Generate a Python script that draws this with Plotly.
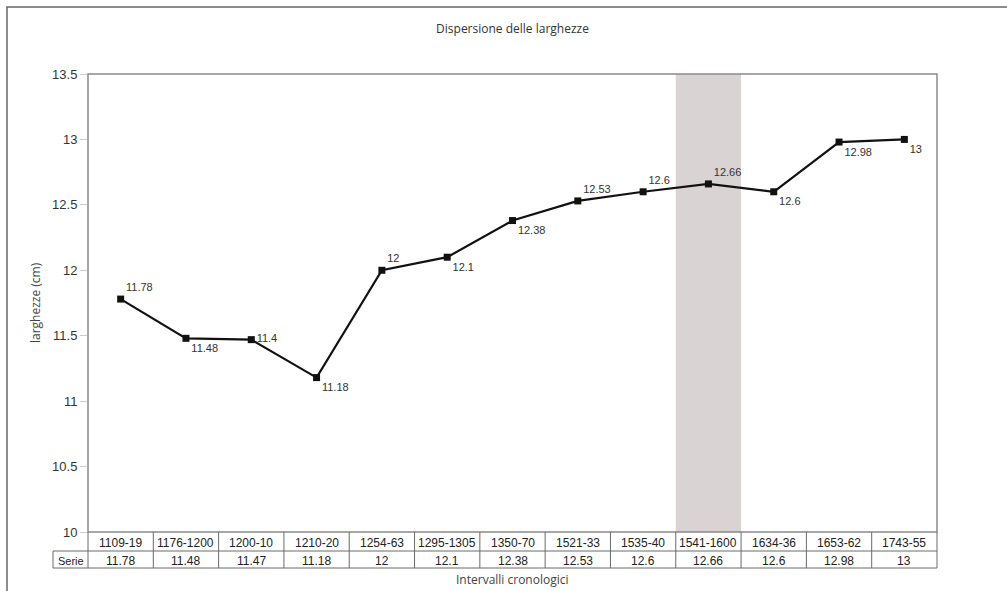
import plotly.graph_objects as go

categories = ["1109-19", "1176-1200", "1200-10", "1210-20", "1254-63", "1295-1305",
              "1350-70", "1521-33", "1535-40", "1541-1600", "1634-36", "1653-62", "1743-55"]
values = [11.78, 11.48, 11.47, 11.18, 12, 12.1, 12.38, 12.53, 12.6, 12.66, 12.6, 12.98, 13]
point_labels = ["11.78", "11.48", "11.4", "11.18", "12", "12.1", "12.38", "12.53", "12.6",
                "12.66", "12.6", "12.98", "13"]
label_pos = ["top right", "bottom right", "middle right", "bottom right", "top right", "bottom right",
             "bottom right", "top right", "top right", "top right", "bottom right",
             "bottom right", "bottom right"]
table_values = ["11.78", "11.48", "11.47", "11.18", "12", "12.1", "12.38", "12.53", "12.6",
                "12.66", "12.6", "12.98", "13"]
series_name = "Serie"
highlight = "1541-1600"
y_ticks = [10, 10.5, 11, 11.5, 12, 12.5, 13, 13.5]

W, H = 1007, 591
L, R, T, B = 88, 937, 74, 532
pw, ph = R - L, B - T

def px_x(p):
    return (p - L) / pw

def px_y(p):
    return (B - p) / ph

n = len(categories)
xs = list(range(n))

fig = go.Figure()
fig.add_trace(go.Scatter(
    x=xs, y=values, mode="lines+markers+text",
    line=dict(color="#111111", width=2.2),
    marker=dict(symbol="square", size=7, color="#111111"),
    text=point_labels, textposition=label_pos,
    textfont=dict(family="Liberation Sans, Arial", size=11, color="#333333"),
    cliponaxis=False, hoverinfo="skip", showlegend=False,
))

shapes = []
hi = categories.index(highlight)
shapes.append(dict(type="rect", xref="x", yref="paper", x0=hi - 0.5, x1=hi + 0.5, y0=0, y1=1,
                   fillcolor="#d9d3d3", line=dict(width=0), layer="below"))
# plot border
shapes.append(dict(type="rect", xref="paper", yref="paper", x0=0, x1=1, y0=0, y1=1,
                   line=dict(color="#8a8a8a", width=1.5)))
# outer frame
shapes.append(dict(type="rect", xref="paper", yref="paper", x0=px_x(7), x1=px_x(1012),
                   y0=px_y(600), y1=px_y(7), line=dict(color="#666666", width=1.5)))
# table lines
row1_bot = 551
row2_bot = 568
tcol = "#6a6a6a"
for i in range(n + 1):
    shapes.append(dict(type="line", xref="paper", yref="paper", x0=i / n, x1=i / n,
                       y0=px_y(row2_bot), y1=0, line=dict(color=tcol, width=1)))
shapes.append(dict(type="line", xref="paper", yref="paper", x0=px_x(53), x1=1,
                   y0=px_y(row1_bot), y1=px_y(row1_bot), line=dict(color=tcol, width=1)))
shapes.append(dict(type="line", xref="paper", yref="paper", x0=px_x(53), x1=1,
                   y0=px_y(row2_bot), y1=px_y(row2_bot), line=dict(color=tcol, width=1)))
shapes.append(dict(type="line", xref="paper", yref="paper", x0=px_x(53), x1=px_x(53),
                   y0=px_y(row2_bot), y1=px_y(row1_bot), line=dict(color=tcol, width=1)))

annotations = []
tfont = dict(family="Liberation Sans, Arial", size=12, color="#222222")
for i, c in enumerate(categories):
    annotations.append(dict(x=(i + 0.5) / n, y=px_y((B + row1_bot) / 2 + 1), xref="paper", yref="paper",
                            text=c, showarrow=False, font=tfont, yanchor="middle", xanchor="center"))
    annotations.append(dict(x=(i + 0.5) / n, y=px_y((row1_bot + row2_bot) / 2 + 1), xref="paper",
                            yref="paper", text=table_values[i], showarrow=False, font=tfont,
                            yanchor="middle", xanchor="center"))
annotations.append(dict(x=px_x(70.5), y=px_y((row1_bot + row2_bot) / 2 + 1), xref="paper", yref="paper",
                        text=series_name, showarrow=False, yanchor="middle", xanchor="center",
                        font=dict(family="Liberation Sans, Arial", size=11, color="#222222")))
annotations.append(dict(x=0.5, y=px_y(579), xref="paper", yref="paper",
                        text="Intervalli cronologici", showarrow=False, yanchor="middle",
                        font=dict(family="Open Sans", size=12, color="#444444")))
annotations.append(dict(x=px_x(35), y=0.5, xref="paper", yref="paper",
                        text="larghezze (cm)", showarrow=False, textangle=-90,
                        xanchor="center", yanchor="middle",
                        font=dict(family="Open Sans", size=12, color="#444444")))

fig.update_layout(
    width=W, height=H,
    margin=dict(l=L, r=W - R, t=T, b=H - B, pad=0),
    paper_bgcolor="white", plot_bgcolor="white",
    title=dict(text="Dispersione delle larghezze", x=0.5, xref="paper", y=1 - 29 / H,
               yanchor="middle", font=dict(family="Open Sans", size=12, color="#333333")),
    xaxis=dict(range=[-0.5, n - 0.5], showticklabels=False, showgrid=False, zeroline=False,
               ticks="", showline=False, fixedrange=True),
    yaxis=dict(range=[10, 13.5], tickvals=y_ticks, ticktext=[f"{v:g}" for v in y_ticks],
               showgrid=False, zeroline=False, ticks="outside", ticklen=7, tickcolor="#cccccc",
               tickfont=dict(family="Liberation Sans, Arial", size=13, color="#333333"),
               showline=False, fixedrange=True),
    shapes=shapes, annotations=annotations,
)

fig.write_html("out.html")
